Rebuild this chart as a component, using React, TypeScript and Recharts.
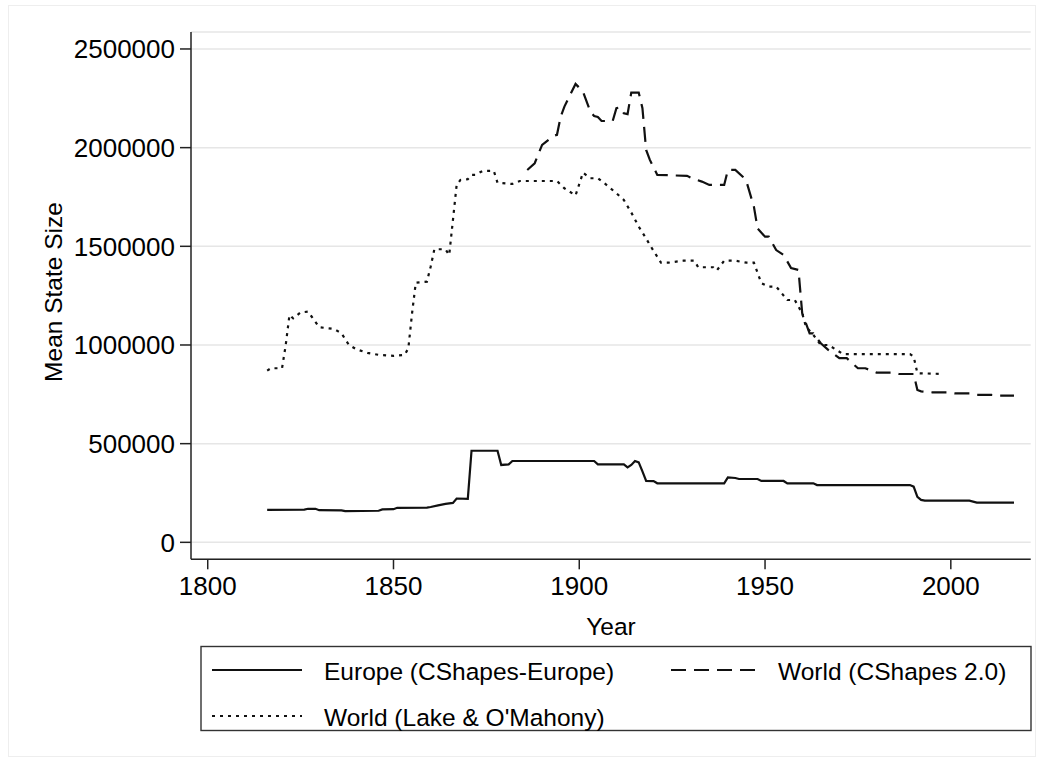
import React from 'react';
import { LineChart, Line, XAxis, YAxis, CartesianGrid } from 'recharts';

// ---- Data ----
const europeYears = [
  1816, 1826, 1827, 1829, 1830, 1836, 1837, 1846, 1847, 1850, 1851, 1859, 1860, 1862, 1864,
  1866, 1867, 1870, 1871, 1878, 1879, 1881, 1882, 1904, 1905, 1912, 1913, 1914, 1915, 1916,
  1917, 1918, 1920, 1921, 1939, 1940, 1942, 1943, 1948, 1949, 1955, 1956, 1963, 1964, 1989,
  1990, 1991, 1992, 1993, 2005, 2007, 2017,
];
const europeValues = [
  164000, 166000, 170000, 170000, 163000, 162000, 158000, 160000, 167000, 168000, 175000, 176000, 179000, 187000, 195000,
  200000, 222000, 220000, 464000, 464000, 392000, 395000, 412000, 412000, 395000, 395000, 380000, 392000, 412000, 405000,
  360000, 311000, 310000, 299000, 299000, 329000, 326000, 321000, 321000, 311000, 311000, 299000, 299000, 290000, 290000,
  282000, 230000, 215000, 211000, 211000, 201000, 201000,
];

const worldCShapesYears = [
  1886, 1888, 1890, 1893, 1894, 1895, 1896, 1899, 1901, 1903, 1904, 1905, 1906, 1909, 1910,
  1911, 1912, 1913, 1914, 1916, 1917, 1918, 1919, 1920, 1921, 1929, 1931, 1933, 1935, 1939,
  1940, 1942, 1944, 1945, 1947, 1948, 1950, 1951, 1953, 1955, 1957, 1959, 1960, 1962, 1963,
  1965, 1967, 1970, 1972, 1975, 1977, 1980, 1984, 1986, 1990, 1991, 1992, 1995, 1999, 2001,
  2005, 2007, 2011, 2013, 2017,
];
const worldCShapesValues = [
  1887000, 1921000, 2014000, 2059000, 2065000, 2157000, 2208000, 2323000, 2284000, 2182000, 2160000, 2155000, 2135000, 2135000, 2200000,
  2205000, 2174000, 2170000, 2279000, 2279000, 2200000, 1988000, 1938000, 1900000, 1862000, 1857000, 1840000, 1828000, 1811000, 1811000,
  1887000, 1887000, 1853000, 1828000, 1701000, 1590000, 1549000, 1549000, 1481000, 1456000, 1390000, 1380000, 1161000, 1059000, 1059000,
  1009000, 975000, 933000, 933000, 882000, 882000, 860000, 860000, 853000, 853000, 772000, 765000, 760000, 760000, 755000,
  755000, 747000, 747000, 743000, 743000,
];

const worldLakeYears = [
  1816, 1817, 1820, 1821, 1822, 1823, 1825, 1827, 1828, 1830, 1834, 1835, 1836, 1838, 1840,
  1843, 1846, 1850, 1853, 1854, 1855, 1856, 1859, 1860, 1861, 1864, 1865, 1867, 1868, 1870,
  1871, 1872, 1874, 1877, 1878, 1882, 1884, 1894, 1896, 1899, 1901, 1903, 1905, 1907, 1910,
  1912, 1914, 1916, 1918, 1919, 1922, 1924, 1928, 1931, 1932, 1936, 1937, 1939, 1942, 1945,
  1947, 1949, 1951, 1953, 1956, 1958, 1960, 1961, 1963, 1965, 1967, 1969, 1971, 1989, 1990,
  1991, 1998,
];
const worldLakeValues = [
  870000, 882000, 882000, 1000000, 1152000, 1135000, 1165000, 1169000, 1143000, 1090000, 1081000, 1070000, 1059000, 1000000, 978000,
  960000, 950000, 945000, 950000, 983000, 1161000, 1316000, 1321000, 1397000, 1485000, 1485000, 1456000, 1811000, 1836000, 1840000,
  1862000, 1862000, 1882000, 1882000, 1822000, 1816000, 1831000, 1831000, 1794000, 1758000, 1873000, 1845000, 1845000, 1816000, 1769000,
  1735000, 1671000, 1600000, 1540000, 1507000, 1417000, 1417000, 1427000, 1427000, 1394000, 1394000, 1377000, 1427000, 1427000, 1417000,
  1417000, 1313000, 1296000, 1296000, 1228000, 1228000, 1161000, 1093000, 1051000, 1000000, 1000000, 978000, 954000, 954000, 941000,
  857000, 853000,
];

const xTicks = [1800, 1850, 1900, 1950, 2000];
const yTicks = [0, 500000, 1000000, 1500000, 2000000, 2500000];
const seriesNames = ['Europe (CShapes-Europe)', 'World (CShapes 2.0)', "World (Lake & O'Mahony)"];
const xTitle = 'Year';
const yTitle = 'Mean State Size';

const toRows = (years: number[], values: number[]) =>
  years.map((year, i) => ({ year, value: values[i] }));

const europeData = toRows(europeYears, europeValues);
const worldCShapesData = toRows(worldCShapesYears, worldCShapesValues);
const worldLakeData = toRows(worldLakeYears, worldLakeValues);

// ---- Styles ----
const FONT = "'Liberation Sans', Arial, Helvetica, sans-serif";
const INK = '#111';
const DASH = '15 8';
const DOT = '3 5';
const LINE_W = 2.2;

const YTitle = () => (
  <text
    x={62}
    y={292}
    transform="rotate(-90 62 292)"
    textAnchor="middle"
    fontSize={24.5}
    fill="#000"
    fontFamily={FONT}
  >
    {yTitle}
  </text>
);

const XTitle = () => (
  <text x={611} y={635} textAnchor="middle" fontSize={24.5} fill="#000" fontFamily={FONT}>
    {xTitle}
  </text>
);

const LegendBox = () => (
  <svg
    width={1044}
    height={762}
    style={{ position: 'absolute', left: 0, top: 0, pointerEvents: 'none' }}
  >
    <rect x={201} y={646.5} width={830} height={84} fill="#fff" stroke="#333" strokeWidth={1.4} />
    <line x1={212} y1={670} x2={302} y2={670} stroke={INK} strokeWidth={LINE_W} />
    <text x={324} y={680} fontSize={24.5} fontFamily={FONT} fill="#000">{seriesNames[0]}</text>
    <line x1={671} y1={670} x2={763} y2={670} stroke={INK} strokeWidth={LINE_W} strokeDasharray={DASH} />
    <text x={778} y={680} fontSize={24.5} fontFamily={FONT} fill="#000">{seriesNames[1]}</text>
    <line x1={212} y1={716} x2={302} y2={716} stroke={INK} strokeWidth={LINE_W} strokeDasharray={DOT} />
    <text x={324} y={726} fontSize={24.5} fontFamily={FONT} fill="#000">{seriesNames[2]}</text>
    <rect x={8.5} y={5.5} width={1027} height={751} fill="none" stroke="#eeeeee" strokeWidth={1} />
  </svg>
);

export default function App() {
  return (
    <div
      style={{
        position: 'absolute',
        left: 0,
        top: 0,
        width: 1044,
        height: 762,
        background: '#fff',
        fontFamily: FONT,
      }}
    >
      <LineChart
        width={1044}
        height={762}
        margin={{ top: 32, right: 13.3, left: 71, bottom: 122.7 }}
      >
        <CartesianGrid horizontal vertical={false} stroke="#e6e6e6" strokeWidth={1.5} />
        <XAxis
          type="number"
          dataKey="year"
          domain={[1795.5, 2021.5]}
          ticks={xTicks}
          allowDataOverflow
          height={80}
          tickSize={10}
          tickMargin={7}
          axisLine={{ stroke: '#222', strokeWidth: 1.5 }}
          tickLine={{ stroke: '#222', strokeWidth: 1.5 }}
          tick={{ fill: '#000', fontSize: 26, fontFamily: FONT }}
          label={<XTitle />}
        />
        <YAxis
          type="number"
          domain={[-86000, 2586000]}
          ticks={yTicks}
          allowDataOverflow
          width={120}
          tickSize={11}
          tickMargin={5}
          tickFormatter={(v: number) => String(v)}
          axisLine={{ stroke: '#222', strokeWidth: 1.5 }}
          tickLine={{ stroke: '#222', strokeWidth: 1.5 }}
          tick={{ fill: '#000', fontSize: 26, fontFamily: FONT }}
          label={<YTitle />}
        />
        <Line
          data={europeData}
          dataKey="value"
          name={seriesNames[0]}
          type="linear"
          stroke={INK}
          strokeWidth={LINE_W}
          dot={false}
          isAnimationActive={false}
        />
        <Line
          data={worldCShapesData}
          dataKey="value"
          name={seriesNames[1]}
          type="linear"
          stroke={INK}
          strokeWidth={LINE_W}
          strokeDasharray={DASH}
          dot={false}
          isAnimationActive={false}
        />
        <Line
          data={worldLakeData}
          dataKey="value"
          name={seriesNames[2]}
          type="linear"
          stroke={INK}
          strokeWidth={LINE_W}
          strokeDasharray={DOT}
          dot={false}
          isAnimationActive={false}
        />
      </LineChart>
      <LegendBox />
    </div>
  );
}
